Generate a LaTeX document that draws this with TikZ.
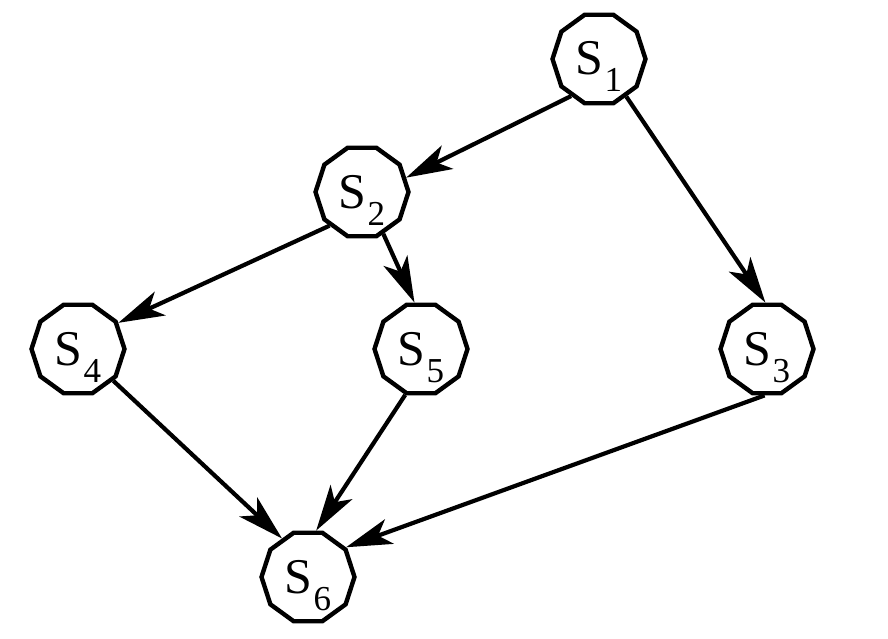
\documentclass[tikz,border=0pt]{standalone}
\usepackage{fontspec}
\setmainfont{Liberation Serif}
\usetikzlibrary{shapes.geometric,arrows.meta}
\newcommand\slbl[1]{S\kern1pt\raisebox{-17pt}{\fontsize{35}{35}\selectfont #1}}
\tikzset{
  st/.style={draw, line width=4.4pt, regular polygon, regular polygon sides=10,
    minimum size=93pt, inner sep=0pt, font=\fontsize{50}{50}\selectfont,
    text height=40pt, text depth=8pt},
  ed/.style={line width=4.2pt, -{Stealth[length=46pt,width=26pt,inset=12pt]}}
}
\begin{document}
\begin{tikzpicture}[x=1pt,y=-1pt]
\useasboundingbox (0,0) rectangle (888,639);
\node[st] (S1) at (599,59) {\slbl{1}};
\node[st] (S2) at (362,192) {\slbl{2}};
\node[st] (S3) at (767,349) {\slbl{3}};
\node[st] (S4) at (78,349) {\slbl{4}};
\node[st] (S5) at (421,349) {\slbl{5}};
\node[st] (S6) at (308,577) {\slbl{6}};
\draw[ed] (S1.233) -- (S2.18);
\draw[ed] (S1.306) -- (S3.92);
\draw[ed] (S2.226) -- (S4.33);
\draw[ed] (S2.297) -- (S5.98);
\draw[ed] (S4.318) -- (S6.124);
\draw[ed] (S5.251) -- (S6.80);
\draw[ed] (S3.267) -- (S6.38);
\end{tikzpicture}
\end{document}
